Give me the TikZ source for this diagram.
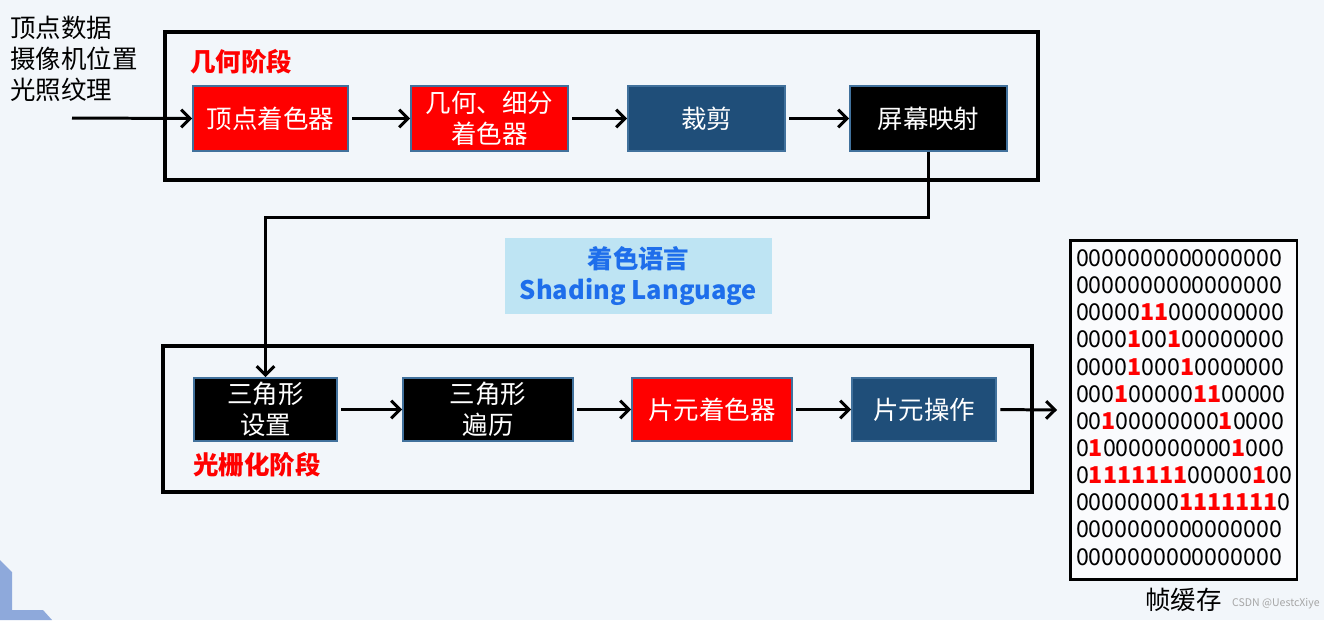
\documentclass[tikz,border=0pt]{standalone}
\usepackage{fontspec}
\setmainfont{Noto Sans CJK SC}
\usetikzlibrary{arrows.meta}
\usetikzlibrary{positioning}

\definecolor{boxline}{RGB}{65,113,156}
\definecolor{darkblue}{RGB}{31,78,121}
\definecolor{shadefill}{RGB}{190,228,243}
\definecolor{shadetext}{RGB}{30,110,235}
\definecolor{bgcolor}{RGB}{242,246,250}
\definecolor{cornerblue}{RGB}{142,169,219}

\newcommand{\boxfont}{\fontsize{14.5pt}{17.6pt}\selectfont}
\newcommand{\bitfont}{\fontsize{13.2pt}{15.45pt}\selectfont}
\newcommand{\rone}{\textcolor{red}{\bfseries 1}}

\begin{document}
\begin{tikzpicture}[x=0.02cm, y=-0.02cm,
    stage/.style={draw=boxline, line width=1pt, text=white, font=\boxfont, align=center, inner sep=0pt, minimum height=1.3cm},
    flow/.style={line width=1.7pt, -{Straight Barb[length=5pt, width=10pt]}, shorten <=2pt},
    frame/.style={line width=2.3pt}]

    \fill[bgcolor] (0,0) rectangle (1324,620);
    \useasboundingbox (0,0) rectangle (1324,620);
    \fill[cornerblue] (0,560) -- (12,572) -- (12,610) -- (43,610) -- (52,620) -- (0,620) -- cycle;

    \draw[frame] (165,32) rectangle (1038,180);
    \draw[frame] (163,346) rectangle (1032,492);

    \node[font=\boxfont\bfseries, text=red, anchor=west, inner sep=0pt] (geolabel) at (190,62) {几何阶段};
    \node[font=\boxfont\bfseries, text=red, anchor=west, inner sep=0pt] (raslabel) at (193,465) {光栅化阶段};

    \node[font=\boxfont, align=left, anchor=west, inner sep=0pt] (inputs) at (10,59) {顶点数据\\摄像机位置\\光照纹理};

    \node[stage, fill=red, minimum width=3.1cm] (vs) at (270.5,118.5) {顶点着色器};
    \node[stage, fill=red, minimum width=3.14cm] (gs) at (489.5,118.5) {几何、细分\\着色器};
    \node[stage, fill=darkblue, minimum width=3.14cm] (clip) at (706.5,118.5) {裁剪};
    \node[stage, fill=black, minimum width=3.14cm] (smap) at (928.5,118.5) {屏幕映射};

    \node[stage, fill=black, minimum width=2.86cm, minimum height=1.26cm] (tsetup) at (265.5,409.5) {三角形\\设置};
    \node[stage, fill=black, minimum width=3.4cm, minimum height=1.26cm] (ttrav) at (488,409.5) {三角形\\遍历};
    \node[stage, fill=red, minimum width=3.2cm, minimum height=1.26cm] (fs) at (712,409.5) {片元着色器};
    \node[stage, fill=darkblue, minimum width=2.88cm, minimum height=1.26cm] (fop) at (924,409.5) {片元操作};

    \node[fill=shadefill, text=shadetext, font=\boxfont\bfseries, align=center, inner sep=0pt, minimum width=5.34cm, minimum height=1.52cm] (shading) at (638.5,276) {着色语言\\Shading Language};

    \coordinate (in) at (72,118);
    \coordinate (bend) at (928.5,217);
    \coordinate (out) at (1057,410);

    \draw[flow, shorten <=0pt] (in) -- (vs.west);
    \draw[flow] (vs) -- (gs);
    \draw[flow] (gs) -- (clip);
    \draw[flow] (clip) -- (smap);
    \draw[flow, shorten <=0pt] (smap.south) -- (bend) -| (tsetup.north);
    \draw[flow] (tsetup) -- (ttrav);
    \draw[flow] (ttrav) -- (fs);
    \draw[flow] (fs) -- (fop);
    \draw[flow] (fop.east) -- (out);

    \node[draw, fill=white!60!bgcolor, line width=1.7pt, minimum width=4.54cm, minimum height=6.8cm] (fb) at (1183.5,410) {};
    \node[font=\bitfont, align=left, inner sep=0pt] (bits) at (1184,407.5) {%
        0000000000000000\\
        0000000000000000\\
        00000\rone\rone000000000\\
        0000\rone00\rone00000000\\
        0000\rone000\rone0000000\\
        000\rone00000\rone\rone00000\\
        00\rone00000000\rone0000\\
        0\rone0000000000\rone000\\
        0\rone\rone\rone\rone\rone\rone\rone00000\rone00\\
        00000000\rone\rone\rone\rone\rone\rone\rone0\\
        0000000000000000\\
        0000000000000000};
    \node[font=\boxfont, inner sep=0pt] (fblabel) at (1183.5,600) {帧缓存};
    \node[font=\fontsize{6pt}{7pt}\selectfont, text=gray!70, anchor=east, inner sep=0pt] (mark) at (1320,604) {CSDN @UestcXiye};

\end{tikzpicture}
\end{document}
